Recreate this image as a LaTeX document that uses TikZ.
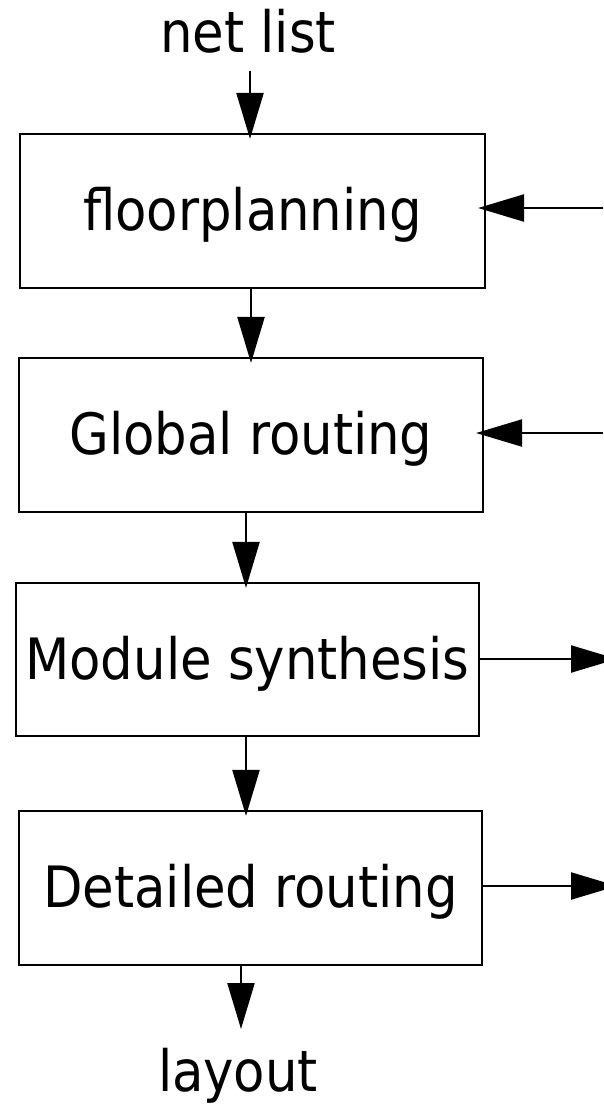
\documentclass[tikz,border=0pt]{standalone}
\usepackage{fontspec}
\setmainfont{DejaVu Sans Condensed}
\usetikzlibrary{arrows.meta,calc}
\begin{document}
\begin{tikzpicture}[x=1pt,y=-1pt,
  stage/.style={draw,line width=2.2pt,inner sep=0pt,text height=45pt,text depth=6pt,
    font=\fontsize{57}{60}\selectfont},
  term/.style={inner sep=0pt,anchor=base,font=\fontsize{57}{60}\selectfont},
  flow/.style={line width=2.3pt,-{Triangle[length=46pt,width=27pt]},shorten >=-6pt}]
\useasboundingbox (0,0) rectangle (603,1104);

% terminals
\node[term] (netlist) at (248,52) {net list};
\node[term] (layout) at (238,1091) {layout};

% processing stages
\node[stage,minimum width=465pt,minimum height=154pt] (fp)  at (252.5,211) {floorplanning};
\node[stage,minimum width=464pt,minimum height=154pt] (gr)  at (251,435)   {Global routing};
\node[stage,minimum width=463pt,minimum height=153pt] (ms)  at (247.5,659.5) {Module synthesis};
\node[stage,minimum width=463pt,minimum height=154pt] (dr)  at (250.5,888) {Detailed routing};

% x positions of the downward connectors
\coordinate (v0) at (250,71);
\coordinate (v1) at (251,0);
\coordinate (v2) at (246,0);
\coordinate (v3) at (246,0);
\coordinate (v4) at (241,0);
\coordinate (lay) at (241,1029);

\draw[flow] (v0) -- (fp.north -| v0);
\draw[flow] (fp.south -| v1) -- (gr.north -| v1);
\draw[flow] (gr.south -| v2) -- (ms.north -| v2);
\draw[flow] (ms.south -| v3) -- (dr.north -| v3);
\draw[flow,shorten >=0pt] (dr.south -| v4) -- (lay);

% side connectors, running off the right edge
\coordinate (in1) at (603,208);
\coordinate (in2) at (603,433);
\coordinate (out3) at (617,659);
\coordinate (out4) at (617,886);
\draw[flow,shorten >=-8pt] (in1) -- (fp.east |- in1);
\draw[flow,shorten >=-8pt] (in2) -- (gr.east |- in2);
\draw[flow,shorten >=0pt] (ms.east |- out3) -- (out3);
\draw[flow,shorten >=0pt] (dr.east |- out4) -- (out4);
\end{tikzpicture}
\end{document}
